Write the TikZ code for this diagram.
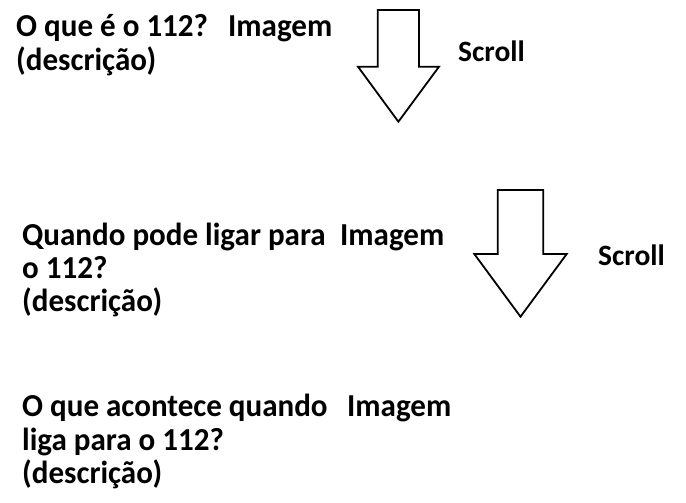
\documentclass[tikz,border=0pt]{standalone}
\usepackage{fontspec}
\setmainfont{Carlito}
\newfontfamily\txtfont[FakeStretch=0.97]{Carlito}
\begin{document}
\begin{tikzpicture}[x=1pt,y=-1pt,
  txt/.style={anchor=base west,inner sep=0pt,font=\txtfont\fontsize{32}{33.5}\selectfont\bfseries,align=left},
  scr/.style={anchor=base west,inner sep=0pt,font=\fontsize{29.5}{33}\selectfont\bfseries},
  downarrow/.style={draw=black,line width=1.8pt,fill=white,line join=miter}]
\useasboundingbox (0,0) rectangle (686,503);
% block 1
\node[txt] (q1) at (16,36.7) {O que é o 112?};
\node[txt] (i1) at (228,36.7) {Imagem};
\node[txt] (d1) at (16,70.2) {(descrição)};
% block 2
\node[txt] (q2a) at (22,245) {Quando pode ligar para};
\node[txt] (i2) at (340,245) {Imagem};
\node[txt] (q2b) at (22,278) {o 112?};
\node[txt] (d2) at (22,311.5) {(descrição)};
% block 3
\node[txt] (q3a) at (22,416.7) {O que acontece quando};
\node[txt] (i3) at (347,416.7) {Imagem};
\node[txt] (q3b) at (22,450) {liga para o 112?};
\node[txt] (d3) at (22,483.5) {(descrição)};
% arrows
\draw[downarrow] (377.7,10) -- (419,10) -- (419,66.7) -- (439,66.7) -- (398.4,121.7) -- (358,66.7) -- (377.7,66.7) -- cycle;
\node[scr] (s1) at (458,61.5) {Scroll};
\draw[downarrow] (497.7,190) -- (543.3,190) -- (543.3,254) -- (566.7,254) -- (520.5,316.7) -- (474.3,254) -- (497.7,254) -- cycle;
\node[scr] (s2) at (598,265) {Scroll};
\end{tikzpicture}
\end{document}
